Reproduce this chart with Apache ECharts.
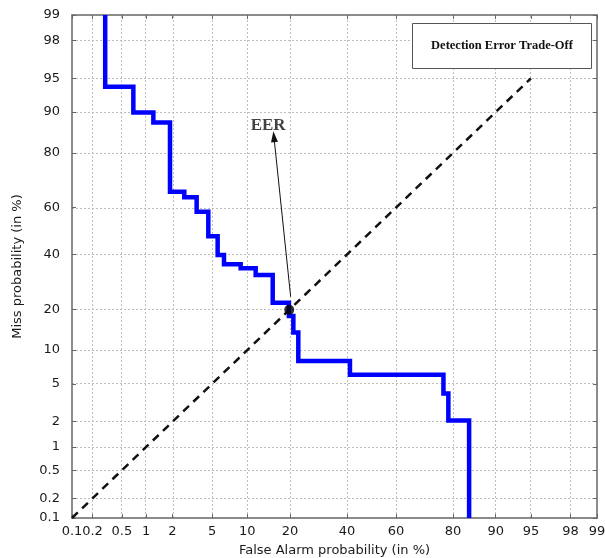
<!DOCTYPE html>
<html>
<head>
<meta charset="utf-8">
<script src="https://cdn.jsdelivr.net/npm/echarts@6/dist/echarts.min.js"></script>
<style>
html,body{margin:0;padding:0;background:#fff;}
#chart{width:605px;height:558px;}
</style>
</head>
<body>
<div id="chart"></div>
<script>
// ---- data (percent) ----
var tickValues = [0.1, 0.2, 0.5, 1, 2, 5, 10, 20, 40, 60, 80, 90, 95, 98, 99];
var tickLabels = ['0.1', '0.2', '0.5', '1', '2', '5', '10', '20', '40', '60', '80', '90', '95', '98', '99'];
// DET staircase vertices
var curveFA   = [0.30, 0.30, 0.70, 0.70, 1.22, 1.22, 1.88, 1.88, 2.67, 2.67, 3.56, 3.56, 4.61, 4.61, 5.62, 5.62, 6.40, 6.40, 8.85, 8.85, 11.6, 11.6, 15.4, 15.4, 19.7, 19.7, 21.0, 21.0, 22.5, 22.5, 41.2, 41.2, 77.1, 77.1, 78.6, 78.6, 84.3, 84.3];
var curveMiss = [99, 94.0, 94.0, 89.9, 89.9, 87.9, 87.9, 66.4, 66.4, 64.2, 64.2, 58.2, 58.2, 47.8, 47.8, 39.8, 39.8, 36.0, 36.0, 34.4, 34.4, 31.8, 31.8, 22.0, 22.0, 18.0, 18.0, 13.7, 13.7, 8.1, 8.1, 6.1, 6.1, 4.0, 4.0, 2.06, 2.06, 0.1];
var diagFA = [0.1, 95];
var diagMiss = [0.1, 95];
var eerPoint = [19.8, 19.8];
var arrowFrom = [20.2, 24.0];
var arrowTo = [15.7, 84.5];
var eerLabelPos = [14.3, 87.1];
var axisMinPct = 0.1, axisMaxPct = 99;

// inverse normal CDF (Acklam)
function probit(p) {
  var a = [-3.969683028665376e+01, 2.209460984245205e+02, -2.759285104469687e+02, 1.383577518672690e+02, -3.066479806614716e+01, 2.506628277459239e+00];
  var b = [-5.447609879822406e+01, 1.615858368580409e+02, -1.556989798598866e+02, 6.680131188771972e+01, -1.328068155288572e+01];
  var c = [-7.784894002430293e-03, -3.223964580411365e-01, -2.400758277161838e+00, -2.549732539343734e+00, 4.374664141464968e+00, 2.938163982698783e+00];
  var d = [7.784695709041462e-03, 3.224671290700398e-01, 2.445134137142996e+00, 3.754408661907416e+00];
  var pl = 0.02425, ph = 1 - pl, q, r;
  if (p < pl) { q = Math.sqrt(-2 * Math.log(p)); return (((((c[0]*q+c[1])*q+c[2])*q+c[3])*q+c[4])*q+c[5]) / ((((d[0]*q+d[1])*q+d[2])*q+d[3])*q+1); }
  if (p <= ph) { q = p - 0.5; r = q*q; return (((((a[0]*r+a[1])*r+a[2])*r+a[3])*r+a[4])*r+a[5])*q / (((((b[0]*r+b[1])*r+b[2])*r+b[3])*r+b[4])*r+1); }
  q = Math.sqrt(-2 * Math.log(1 - p)); return -(((((c[0]*q+c[1])*q+c[2])*q+c[3])*q+c[4])*q+c[5]) / ((((d[0]*q+d[1])*q+d[2])*q+d[3])*q+1);
}
function P(pct) { return probit(pct / 100); }

var tickPos = tickValues.map(P);
function fmt(v) {
  var best = 0, bd = 1e9;
  for (var i = 0; i < tickPos.length; i++) { var dd = Math.abs(tickPos[i] - v); if (dd < bd) { bd = dd; best = i; } }
  return tickLabels[best];
}

var curveData = curveFA.map(function (f, i) { return [P(f), P(curveMiss[i])]; });
var diagData = diagFA.map(function (f, i) { return [P(f), P(diagMiss[i])]; });
var innerTicks = tickPos.slice(1, tickPos.length - 1);

var frameColor = '#666';
var labelFont = { fontFamily: 'DejaVu Sans', fontSize: 13, color: '#1a1a1a' };
var nameFont = { fontFamily: 'DejaVu Sans', fontSize: 13, color: '#1a1a1a' };

function mkX(pos, showLabel) {
  return {
    type: 'value', position: pos, min: P(axisMinPct), max: P(axisMaxPct),
    name: showLabel ? 'False Alarm probability (in %)' : '',
    nameLocation: 'middle', nameGap: 26,
    nameTextStyle: nameFont,
    axisLine: { show: true, onZero: false, lineStyle: { color: frameColor, width: 1.5 } },
    axisTick: { show: true, inside: true, length: 4, customValues: tickPos, lineStyle: { color: frameColor } },
    axisLabel: Object.assign({ show: showLabel, customValues: tickPos, formatter: fmt, margin: 7, hideOverlap: false, showMinLabel: true, showMaxLabel: true }, labelFont),
    splitLine: { show: false }
  };
}
function mkY(pos, showLabel) {
  return {
    type: 'value', position: pos, min: P(axisMinPct), max: P(axisMaxPct),
    name: showLabel ? 'Miss probability (in %)' : '',
    nameLocation: 'middle', nameGap: 48, nameRotate: 90,
    nameTextStyle: nameFont,
    axisLine: { show: true, onZero: false, lineStyle: { color: frameColor, width: 1.5 } },
    axisTick: { show: true, inside: true, length: 4, customValues: tickPos, lineStyle: { color: frameColor } },
    axisLabel: Object.assign({ show: showLabel, customValues: tickPos, formatter: fmt, margin: 12, hideOverlap: false, showMinLabel: true, showMaxLabel: true }, labelFont),
    splitLine: { show: false }
  };
}

var gridLineStyle = { type: [2, 2], color: '#bdbdbd', width: 1 };
var gridMarks = innerTicks.map(function (v) { return { xAxis: v }; })
  .concat(innerTicks.map(function (v) { return { yAxis: v }; }));

var chart = echarts.init(document.getElementById('chart'), null, { renderer: 'canvas' });
chart.setOption({
  animation: false,
  backgroundColor: '#fff',
  grid: { left: 72, right: 8, top: 15, bottom: 40, containLabel: false, outerBoundsMode: 'none' },
  xAxis: [mkX('bottom', true), mkX('top', false)],
  yAxis: [mkY('left', true), mkY('right', false)],
  series: [
    {
      type: 'line', data: [], silent: true, z: 0, zlevel: 0,
      markLine: { silent: true, z: 0, symbol: ['none', 'none'], label: { show: false }, lineStyle: gridLineStyle, data: gridMarks, animation: false }
    },
    {
      type: 'line', data: diagData, showSymbol: false, symbol: 'none',
      lineStyle: { color: '#111', width: 2.5, type: [8, 6] }, z: 3
    },
    {
      type: 'line', data: curveData, showSymbol: false, symbol: 'none',
      lineStyle: { color: '#0000ff', width: 4.5, cap: 'butt', join: 'miter' }, z: 4
    },
    {
      type: 'scatter', data: [[P(eerPoint[0]), P(eerPoint[1])]], symbolSize: 10,
      itemStyle: { color: '#000' }, z: 6,
      markLine: {
        silent: true, symbol: ['none', 'triangle'], symbolSize: [7, 11], label: { show: false },
        lineStyle: { color: '#111', width: 1, type: 'solid' },
        data: [[{ coord: [P(arrowFrom[0]), P(arrowFrom[1])] }, { coord: [P(arrowTo[0]), P(arrowTo[1])] }]],
        animation: false
      }
    },
    {
      type: 'scatter', data: [[P(eerLabelPos[0]), P(eerLabelPos[1])]], symbolSize: 0, z: 7,
      label: { show: true, position: 'inside', formatter: 'EER', fontFamily: 'Liberation Serif', fontWeight: 'bold', fontSize: 17, color: '#111' }
    }
  ],
  graphic: [
    { type: 'rect', left: 412, top: 23, shape: { width: 179, height: 45 }, style: { fill: '#fff', stroke: '#555', lineWidth: 1 }, z: 100 },
    { type: 'text', x: 502, y: 46, style: { text: 'Detection Error Trade-Off', font: 'bold 12.5px "Liberation Serif"', fill: '#111', align: 'center', verticalAlign: 'middle' }, z: 101 }
  ]
});
</script>
</body>
</html>
